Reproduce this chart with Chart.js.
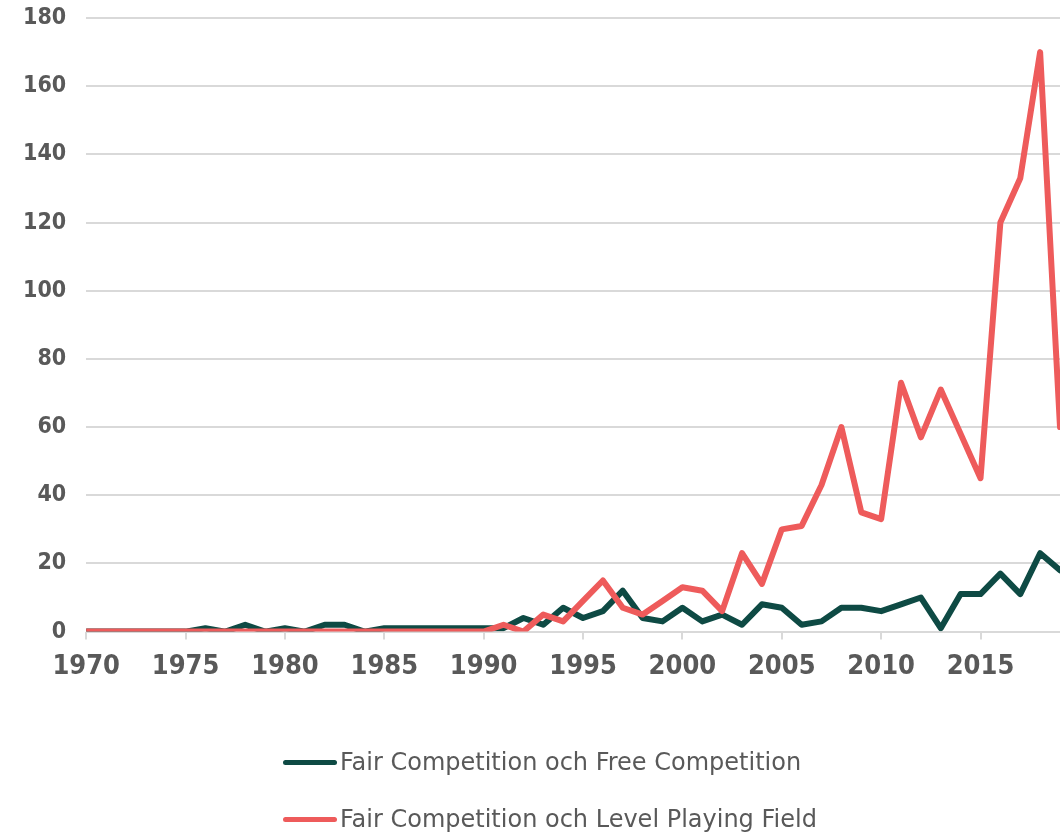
<!DOCTYPE html>
<html>
<head>
<meta charset="utf-8">
<script src="https://cdn.jsdelivr.net/npm/chart.js@4"></script>
<style>
  html, body { margin: 0; padding: 0; background: #ffffff; }
  #wrap { position: relative; width: 1060px; height: 833px; overflow: hidden; }
  #chart { position: absolute; left: 0; top: 0; }
  .legend-row { position: absolute; left: 283px; height: 30px; display: flex; align-items: center; }
  .swatch { width: 54px; height: 5px; border-radius: 3px; margin-right: 3px; }
  .legend-text { font-family: "DejaVu Sans", sans-serif; font-size: 24px; color: #595959; white-space: nowrap; }
</style>
</head>
<body>
<div id="wrap">
  <canvas id="chart" width="1060" height="833"></canvas>
  <div class="legend-row" style="top:747px;"><div class="swatch" style="background:#0e4a44"></div><span class="legend-text">Fair Competition och Free Competition</span></div>
  <div class="legend-row" style="top:804px;"><div class="swatch" style="background:#ee5b5b"></div><span class="legend-text">Fair Competition och Level Playing Field</span></div>
</div>
<script>
const years = [1970,1971,1972,1973,1974,1975,1976,1977,1978,1979,
               1980,1981,1982,1983,1984,1985,1986,1987,1988,1989,
               1990,1991,1992,1993,1994,1995,1996,1997,1998,1999,
               2000,2001,2002,2003,2004,2005,2006,2007,2008,2009,
               2010,2011,2012,2013,2014,2015,2016,2017,2018,2019];
const freeCompetition = [0,0,0,0,0,0,1,0,2,0,
                         1,0,2,2,0,1,1,1,1,1,
                         1,1,4,2,7,4,6,12,4,3,
                         7,3,5,2,8,7,2,3,7,7,
                         6,8,10,1,11,11,17,11,23,18];
const levelPlayingField = [0,0,0,0,0,0,0,0,0,0,
                           0,0,0,0,0,0,0,0,0,0,
                           0,2,0,5,3,9,15,7,5,9,
                           13,12,6,23,14,30,31,43,60,35,
                           33,73,57,71,58,45,120,133,170,60];
const seriesNames = ["Fair Competition och Free Competition", "Fair Competition och Level Playing Field"];
const yTicks = [0,20,40,60,80,100,120,140,160,180];
const xTickStep = 5;

const toPoints = arr => years.map((y, i) => ({ x: y, y: arr[i] }));
const labelFont = '"DejaVu Sans Condensed", "DejaVu Sans", sans-serif';

new Chart(document.getElementById('chart'), {
  type: 'line',
  data: {
    datasets: [
      {
        label: seriesNames[0],
        data: toPoints(freeCompetition),
        borderColor: '#0e4a44',
        backgroundColor: '#0e4a44',
        borderWidth: 6,
        pointRadius: 0,
        tension: 0,
        borderJoinStyle: 'round',
        borderCapStyle: 'round',
        order: 1
      },
      {
        label: seriesNames[1],
        data: toPoints(levelPlayingField),
        borderColor: '#ee5b5b',
        backgroundColor: '#ee5b5b',
        borderWidth: 6,
        pointRadius: 0,
        tension: 0,
        borderJoinStyle: 'round',
        borderCapStyle: 'round',
        order: 0
      }
    ]
  },
  options: {
    responsive: false,
    animation: false,
    layout: { padding: { left: 3, top: 0, right: 0, bottom: 139 } },
    plugins: { legend: { display: false }, tooltip: { enabled: false } },
    scales: {
      x: {
        type: 'linear',
        min: years[0],
        max: years[years.length - 1],
        border: { display: false },
        grid: { drawOnChartArea: false, drawTicks: true, tickLength: 8, color: '#d9d9d9', lineWidth: 2 },
        ticks: {
          stepSize: xTickStep,
          includeBounds: false,
          autoSkip: false,
          maxRotation: 0,
          padding: 11,
          color: '#595959',
          font: { family: labelFont, size: 27, weight: 'bold' },
          callback: v => String(v)
        }
      },
      y: {
        min: yTicks[0],
        max: yTicks[yTicks.length - 1],
        border: { display: false },
        grid: { color: '#d9d9d9', lineWidth: 2, drawTicks: false },
        afterFit: scale => { scale.paddingTop = 18; },
        ticks: {
          stepSize: yTicks[1] - yTicks[0],
          padding: 20,
          color: '#595959',
          font: { family: labelFont, size: 23, weight: 'bold' }
        }
      }
    }
  }
});
</script>
</body>
</html>
